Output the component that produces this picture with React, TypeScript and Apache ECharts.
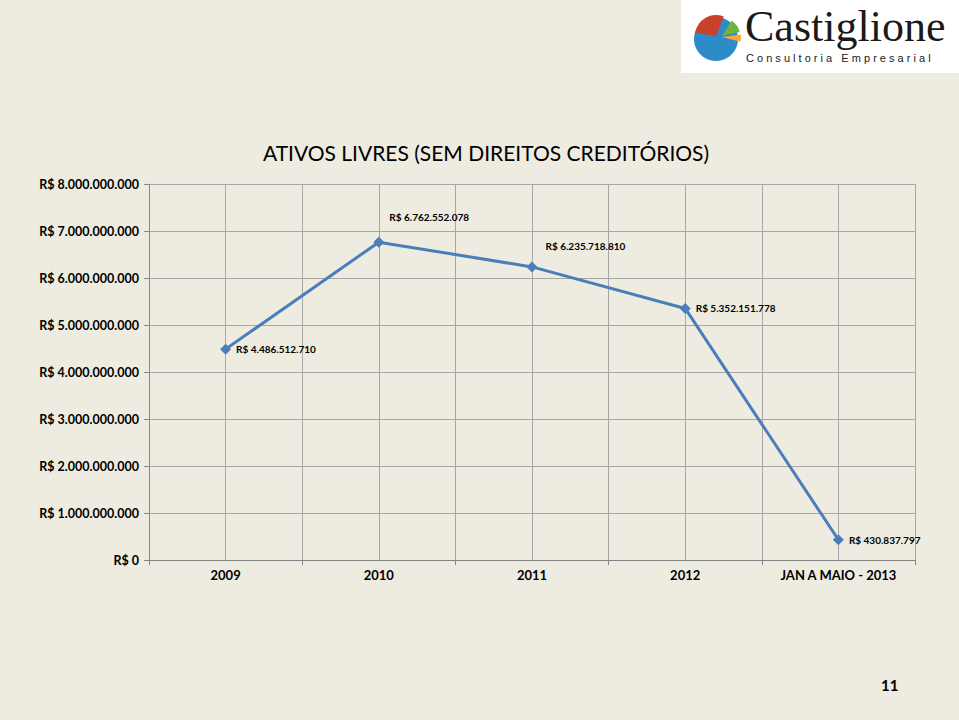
import React, { useEffect, useRef } from "react";
import * as echarts from "echarts";

const categories = ["2009", "2010", "2011", "2012", "JAN A MAIO - 2013"];
const values = [4486512710, 6762552078, 6235718810, 5352151778, 430837797];
const labelOffsets = [[0, 0], [0, -25], [3, -21], [0, 0], [0, 0]];
const yTicks = [0, 1e9, 2e9, 3e9, 4e9, 5e9, 6e9, 7e9, 8e9];

const BG = "#EEECE1";
const FONT = "Lato, 'Open Sans', sans-serif";

function fmt(v: number): string {
  const s = Math.round(v).toString();
  return "R$ " + s.replace(/\B(?=(\d{3})+(?!\d))/g, ".");
}

export default function App() {
  const ref = useRef<HTMLDivElement>(null);
  useEffect(() => {
    document.body.style.margin = "0";
    const chart = echarts.init(ref.current!, null, { renderer: "svg" });
    chart.setOption({
      animation: false,
      backgroundColor: BG,
      title: {
        text: "ATIVOS LIVRES (SEM DIREITOS CREDITÓRIOS)",
        left: 481,
        top: 137,
        textAlign: "center",
        textStyle: { fontFamily: FONT, fontSize: 21, fontWeight: "normal", color: "#000" },
      },
      grid: { left: 149, right: 44, top: 184, bottom: 160, containLabel: false },
      xAxis: [
        {
          type: "category",
          data: categories,
          boundaryGap: true,
          axisLine: { lineStyle: { color: "#868686", width: 1 } },
          axisTick: { show: true, length: 5, lineStyle: { color: "#868686" } },
          axisLabel: { fontFamily: FONT, fontSize: 13, fontWeight: "bold", color: "#000", margin: 8 },
          splitLine: { show: false },
        },
        {
          type: "value",
          min: 0,
          max: 10,
          interval: 1,
          show: true,
          position: "bottom",
          axisLine: { show: false },
          axisTick: { show: false },
          axisLabel: { show: false },
          splitLine: { show: true, lineStyle: { color: "#A6A6A6", width: 1 } },
        },
      ],
      yAxis: {
        type: "value",
        min: 0,
        max: 8e9,
        interval: 1e9,
        axisLine: { show: true, lineStyle: { color: "#868686", width: 1 } },
        axisTick: { show: true, length: 5, lineStyle: { color: "#868686" } },
        axisLabel: {
          fontFamily: FONT,
          fontSize: 12.5,
          fontWeight: "bold",
          color: "#000",
          margin: 10,
          customValues: yTicks,
          formatter: (v: number) => (v === 0 ? "R$ 0" : fmt(v)),
        },
        splitLine: { show: true, lineStyle: { color: "#A6A6A6", width: 1 } },
      },
      series: [
        {
          type: "line",
          xAxisIndex: 0,
          data: values.map((v, i) => ({
            value: v,
            label: { offset: labelOffsets[i] },
          })),
          symbol: "diamond",
          symbolSize: 11,
          lineStyle: { color: "#4A7EBB", width: 3 },
          itemStyle: { color: "#4A7EBB" },
          label: {
            show: true,
            position: "right",
            distance: 5,
            fontFamily: FONT,
            fontSize: 10,
            fontWeight: "bold",
            color: "#000",
            formatter: (p: any) => fmt(p.value),
          },
        },
      ],
      graphic: [
        {
          type: "rect",
          shape: { x: 681, y: 0, width: 278, height: 73 },
          style: { fill: "#FFFFFF" },
          silent: true,
        },
        {
          type: "circle",
          shape: { cx: 716, cy: 39, r: 22 },
          style: { fill: "#2E8BC9" },
        },
        {
          type: "sector",
          shape: { cx: 716, cy: 36, r0: 0, r: 21, startAngle: Math.PI * 1.05, endAngle: Math.PI * 1.62 },
          style: { fill: "#C8412B" },
        },
        {
          type: "sector",
          shape: { cx: 722, cy: 36, r0: 0, r: 18, startAngle: Math.PI * 1.68, endAngle: Math.PI * 1.93 },
          style: { fill: "#6DB33F" },
        },
        {
          type: "sector",
          shape: { cx: 722, cy: 37, r0: 0, r: 19, startAngle: Math.PI * 1.96, endAngle: Math.PI * 2.08 },
          style: { fill: "#F4A93A" },
        },
        {
          type: "text",
          x: 745,
          y: 46,
          style: {
            text: "Castiglione",
            font: "44px 'Liberation Serif', 'DejaVu Serif', serif",
            fill: "#1A1A1A",
            verticalAlign: "bottom",
            lineHeight: 40,
          },
        },
        {
          type: "text",
          x: 746,
          y: 52,
          style: {
            text: "C o n s u l t o r i a   E m p r e s a r i a l",
            font: "11px 'Liberation Sans', sans-serif",
            fill: "#1A1A1A",
          },
        },
        {
          type: "text",
          x: 881,
          y: 677,
          style: {
            text: "11",
            font: "bold 15px Lato, sans-serif",
            fill: "#000",
          },
        },
      ],
    });
    return () => chart.dispose();
  }, []);
  return <div ref={ref} style={{ width: 959, height: 720, background: BG }} />;
}
